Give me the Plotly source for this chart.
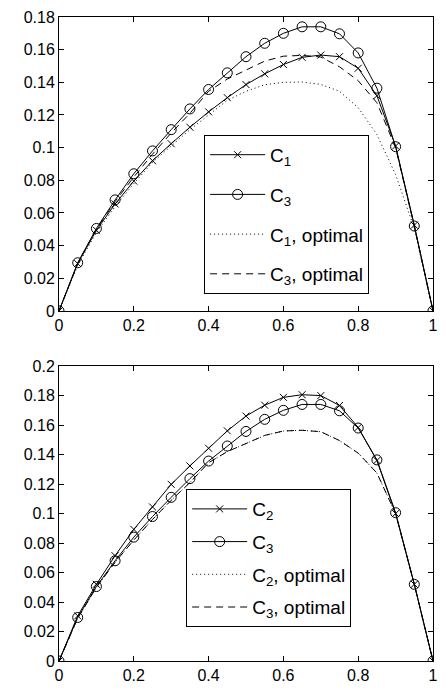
import plotly.graph_objects as go
from plotly.subplots import make_subplots

x = [0, 0.05, 0.1, 0.15, 0.2, 0.25, 0.3, 0.35, 0.4, 0.45, 0.5,
     0.55, 0.6, 0.65, 0.7, 0.75, 0.8, 0.85, 0.9, 0.95, 1]

c1 = [0, 0.029, 0.0494, 0.0655, 0.0795, 0.092, 0.1024, 0.1125, 0.1219, 0.1306, 0.1386,
      0.1452, 0.1509, 0.1553, 0.1567, 0.1557, 0.1486, 0.1318, 0.101, 0.0525, 0]
c2 = [0, 0.0306, 0.052, 0.0714, 0.0893, 0.1045, 0.1198, 0.1323, 0.1443, 0.1561, 0.1661,
      0.1735, 0.1788, 0.1806, 0.18, 0.1733, 0.1584, 0.136, 0.1, 0.052, 0]
c3 = [0, 0.0295, 0.0505, 0.068, 0.084, 0.098, 0.111, 0.1237, 0.1356, 0.1458, 0.1557,
      0.1639, 0.170, 0.174, 0.174, 0.1697, 0.158, 0.1364, 0.1006, 0.052, 0]

c1_opt = [0, 0.028, 0.048, 0.064, 0.078, 0.091, 0.101, 0.111, 0.12, 0.129, 0.1345,
          0.1385, 0.140, 0.1402, 0.1387, 0.1345, 0.1245, 0.108, 0.0835, 0.0505, 0]
c3_opt = [0, 0.029, 0.05, 0.067, 0.082, 0.096, 0.109, 0.121, 0.1345, 0.142, 0.1475,
          0.153, 0.156, 0.1565, 0.1555, 0.1495, 0.141, 0.1275, 0.1, 0.052, 0]
c2_opt = [0, 0.029, 0.05, 0.067, 0.082, 0.096, 0.109, 0.121, 0.1345, 0.142, 0.1475,
          0.153, 0.156, 0.1565, 0.1555, 0.1495, 0.141, 0.1275, 0.1, 0.052, 0]

FONT = "Liberation Sans, Arial, sans-serif"
BLACK = "black"
DOTTED = "1px,3px"
DASHED = "7px,5px"

fig = make_subplots(rows=2, cols=1, vertical_spacing=0.0857)


def add_series(y, name, row, legend, marker=None, dash="solid"):
    mode = "lines+markers" if marker else "lines"
    mk = None
    if marker == "x":
        mk = dict(symbol="x-thin-open", size=7, color=BLACK, line=dict(color=BLACK, width=1))
    elif marker == "o":
        mk = dict(symbol="circle-open", size=10, color=BLACK, line=dict(color=BLACK, width=1))
    fig.add_trace(
        go.Scatter(x=x, y=y, name=name, mode=mode, marker=mk,
                   line=dict(color=BLACK, width=1, dash=dash),
                   legend=legend, legendgroup=name + legend),
        row=row, col=1,
    )


# top panel
add_series(c1, "C<sub>1</sub>", 1, "legend", marker="x")
add_series(c3, "C<sub>3</sub>", 1, "legend", marker="o")
add_series(c1_opt, "C<sub>1</sub>, optimal", 1, "legend", dash=DOTTED)
add_series(c3_opt, "C<sub>3</sub>, optimal", 1, "legend", dash=DASHED)

# bottom panel
add_series(c2, "C<sub>2</sub>", 2, "legend2", marker="x")
add_series(c3, "C<sub>3</sub>", 2, "legend2", marker="o")
add_series(c2_opt, "C<sub>2</sub>, optimal", 2, "legend2", dash=DOTTED)
add_series(c3_opt, "C<sub>3</sub>, optimal", 2, "legend2", dash=DASHED)

axis_style = dict(
    showline=True, linecolor=BLACK, linewidth=1, mirror="ticks",
    ticks="inside", ticklen=5, tickcolor=BLACK, tickwidth=1,
    showgrid=False, zeroline=False,
    tickfont=dict(family=FONT, size=16, color=BLACK),
)
fig.update_xaxes(range=[0, 1], dtick=0.2, **axis_style)
fig.update_yaxes(range=[0, 0.18], dtick=0.02, row=1, col=1, **axis_style)
fig.update_yaxes(range=[0, 0.2], dtick=0.02, row=2, col=1, **axis_style)

fig.update_layout(
    width=447, height=693,
    margin=dict(l=59, r=9, t=9, b=31),
    paper_bgcolor="white", plot_bgcolor="white",
    font=dict(family=FONT, size=16, color=BLACK),
    yaxis=dict(domain=[0.5436, 1]),
    yaxis2=dict(domain=[0, 0.4579]),
    legend=dict(x=0.388, y=0.817, xanchor="left", yanchor="top",
                bgcolor="white", bordercolor=BLACK, borderwidth=1,
                itemwidth=55, tracegroupgap=12, font=dict(size=19)),
    legend2=dict(x=0.340, y=0.267, xanchor="left", yanchor="top",
                 bgcolor="white", bordercolor=BLACK, borderwidth=1,
                 itemwidth=55, tracegroupgap=5, font=dict(size=19)),
)

fig.write_html("out.html", config={"displayModeBar": False},
               post_script="document.body.style.margin='0';")
